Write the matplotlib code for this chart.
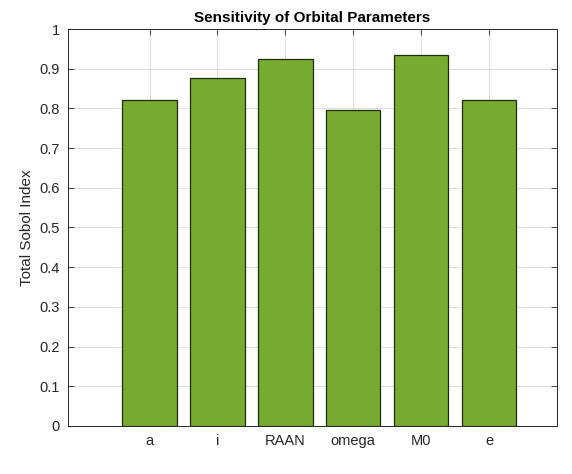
import matplotlib
matplotlib.use("Agg")
import matplotlib.pyplot as plt

params = ["a", "i", "RAAN", "omega", "M0", "e"]
sobol_total = [0.822, 0.877, 0.924, 0.795, 0.934, 0.821]
y_ticks = [0, 0.1, 0.2, 0.3, 0.4, 0.5, 0.6, 0.7, 0.8, 0.9, 1]

plt.rcParams["font.family"] = ["Liberation Sans", "DejaVu Sans"]

fig = plt.figure(figsize=(5.72, 4.74), dpi=100)
axis = fig.add_axes([0.1189, 0.1013, 0.8549, 0.8375])

positions = list(range(1, len(params) + 1))
axis.bar(positions, sobol_total, width=0.8, color="#77AC30",
         edgecolor="#1f2a10", linewidth=0.9, zorder=3)

axis.set_xlim(-0.2, 7.0)
axis.set_ylim(0, 1)
axis.set_xticks(positions)
axis.set_xticklabels(params)
axis.set_yticks(y_ticks)
axis.set_yticklabels([f"{t:g}" for t in y_ticks])

axis.set_title("Sensitivity of Orbital Parameters", fontsize=11,
               fontweight="bold", color="black", pad=5)
axis.set_ylabel("Total Sobol Index", fontsize=11, color="#262626")

axis.grid(True, color="#dcdcdc", linewidth=0.7, zorder=0)
axis.set_axisbelow(True)
axis.tick_params(direction="in", top=True, right=True, length=4,
                 width=0.6, colors="#262626", labelsize=10.5, pad=6)
for spine in axis.spines.values():
    spine.set_color("#262626")
    spine.set_linewidth(0.7)

fig.savefig("out.png", dpi=100)
plt.close(fig)
